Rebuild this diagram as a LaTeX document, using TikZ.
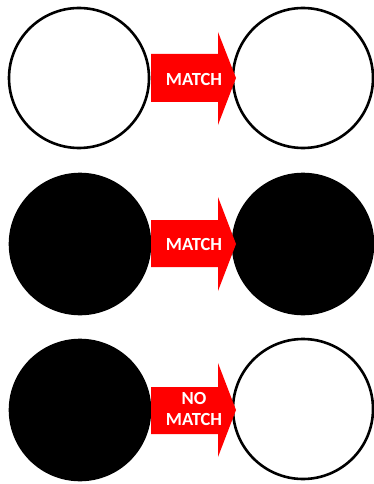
\documentclass[tikz,border=0pt]{standalone}
\usepackage{fontspec}
\setmainfont{Carlito}
\begin{document}
\begin{tikzpicture}[x=1pt,y=-1pt,
  ring/.style={circle,draw=black,line width=2.6pt,minimum size=140pt,inner sep=0pt},
  blackring/.style={ring,fill=black},
  whitering/.style={ring,fill=white},
  redarrow/.style={fill=red,draw=none},
  label/.style={text=white,font=\fontsize{18.5}{21}\selectfont\bfseries,align=center,inner sep=0pt}]
\useasboundingbox (0,0) rectangle (373,484);
% row 1
\node[whitering] (a1) at (79,78) {};
\node[whitering] (b1) at (303,78) {};
\fill[redarrow] (151,54) -- (218,54) -- (218,32) -- (236,78) -- (218,125) -- (218,102) -- (151,102) -- cycle;
\node[label] (t1) at (194,79) {MATCH};
% row 2
\node[blackring] (a2) at (80,244) {};
\node[blackring] (b2) at (303,244) {};
\fill[redarrow] (151,220) -- (218,220) -- (218,197) -- (236,244) -- (218,291) -- (218,267) -- (151,267) -- cycle;
\node[label] (t2) at (194,244) {MATCH};
% row 3
\node[blackring] (a3) at (80,410) {};
\node[whitering] (b3) at (303,409) {};
\fill[redarrow] (151,387) -- (218,387) -- (218,363) -- (236,410) -- (218,457) -- (218,434) -- (151,434) -- cycle;
\node[label] (t3) at (194,409) {NO\\MATCH};
\end{tikzpicture}
\end{document}
